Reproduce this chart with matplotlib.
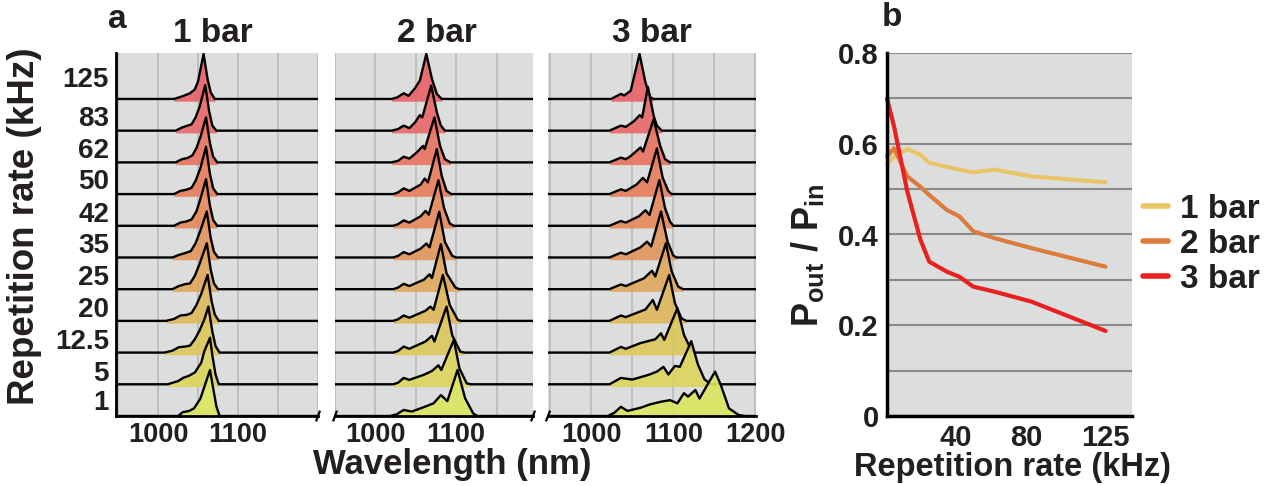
import numpy as np
import matplotlib
matplotlib.use("Agg")
import matplotlib.pyplot as plt

plt.rcParams["font.family"] = ["Liberation Sans", "DejaVu Sans"]
plt.rcParams["font.weight"] = "bold"
plt.rcParams["text.color"] = "#231f20"
plt.rcParams["xtick.color"] = "#231f20"
plt.rcParams["ytick.color"] = "#231f20"
plt.rcParams["mathtext.fontset"] = "custom"
plt.rcParams["mathtext.rm"] = "Liberation Sans:bold"
plt.rcParams["mathtext.bf"] = "Liberation Sans:bold"
plt.rcParams["mathtext.it"] = "Liberation Sans:bold"

# ---------------------------------------------------------------- data
rates = ["1", "5", "12.5", "20", "25", "35", "42", "50", "62", "83", "125"]
pressures = ["1 bar", "2 bar", "3 bar"]

# Output spectra (bottom row = 1 kHz, top row = 125 kHz), intensity in row units
wl_1bar = [
    [1025, 1031, 1039, 1045, 1053, 1059, 1065, 1069, 1073, 1077],
    [1012, 1025, 1032, 1038, 1046, 1054, 1058, 1065, 1068, 1072, 1076],
    [1008, 1018, 1026, 1034, 1040, 1046, 1052, 1058, 1063, 1068, 1072, 1077],
    [1010, 1020, 1028, 1036, 1042, 1048, 1054, 1062, 1067, 1071, 1076],
    [1018, 1026, 1034, 1040, 1046, 1052, 1061, 1066, 1070, 1075],
    [1018, 1026, 1034, 1041, 1047, 1053, 1061, 1066, 1070, 1075],
    [1020, 1028, 1036, 1042, 1048, 1053, 1060, 1065, 1069, 1074],
    [1020, 1028, 1036, 1042, 1047, 1053, 1060, 1065, 1069, 1074],
    [1022, 1030, 1037, 1043, 1048, 1053, 1060, 1065, 1069, 1074],
    [1022, 1030, 1037, 1042, 1047, 1052, 1059, 1064, 1068, 1073],
    [1020, 1030, 1040, 1046, 1050, 1057, 1062, 1066, 1071],
]
int_1bar = [
    [0, 0.12, 0.16, 0.24, 0.55, 1.0, 1.45, 0.87, 0.3, 0],
    [0, 0.1, 0.21, 0.26, 0.37, 0.68, 1.05, 1.47, 0.9, 0.3, 0],
    [0, 0.06, 0.17, 0.19, 0.22, 0.42, 0.7, 1.05, 1.45, 0.65, 0.2, 0],
    [0, 0.06, 0.17, 0.19, 0.25, 0.5, 0.85, 1.45, 0.62, 0.2, 0],
    [0, 0.1, 0.16, 0.18, 0.42, 0.8, 1.45, 0.6, 0.18, 0],
    [0, 0.08, 0.14, 0.2, 0.45, 0.85, 1.45, 0.6, 0.18, 0],
    [0, 0.1, 0.14, 0.2, 0.45, 0.85, 1.47, 0.62, 0.18, 0],
    [0, 0.1, 0.14, 0.2, 0.42, 0.82, 1.49, 0.62, 0.18, 0],
    [0, 0.1, 0.14, 0.22, 0.45, 0.8, 1.42, 0.6, 0.18, 0],
    [0, 0.1, 0.16, 0.2, 0.42, 0.75, 1.44, 0.6, 0.16, 0],
    [0, 0.08, 0.18, 0.3, 0.55, 1.42, 0.62, 0.2, 0],
]

wl_2bar = [
    [1018, 1026, 1035, 1045, 1060, 1072, 1081, 1089, 1101.6, 1111, 1121, 1126],
    [1022, 1028, 1035, 1042, 1060, 1070, 1078, 1081.5, 1097, 1104, 1113, 1118],
    [1022, 1028, 1035, 1042, 1062, 1070, 1073, 1088, 1095, 1105, 1110],
    [1022, 1028, 1035, 1042, 1062, 1068, 1072, 1083.5, 1092, 1102, 1106],
    [1022, 1028, 1035, 1042, 1060, 1067, 1070, 1081, 1088, 1099, 1104],
    [1022, 1028, 1035, 1042, 1056, 1063, 1067, 1079, 1086, 1095, 1100],
    [1022, 1028, 1035, 1042, 1056, 1062, 1066, 1078, 1085, 1092, 1097],
    [1022, 1028, 1035, 1042, 1056, 1061, 1065, 1076, 1082, 1088, 1094],
    [1020, 1028, 1035, 1042, 1051, 1059, 1061, 1073, 1080, 1086, 1093],
    [1020, 1028, 1035, 1042, 1049, 1055, 1058, 1069, 1076, 1081, 1086],
    [1020, 1027, 1035, 1041, 1049, 1055, 1063, 1070, 1076, 1082],
]
int_2bar = [
    [0, 0.05, 0.19, 0.14, 0.28, 0.4, 0.66, 0.47, 1.45, 0.56, 0.08, 0],
    [0, 0.05, 0.2, 0.14, 0.3, 0.42, 0.6, 0.45, 1.4, 0.5, 0.03, 0],
    [0, 0.05, 0.19, 0.12, 0.35, 0.53, 0.35, 1.45, 0.55, 0.03, 0],
    [0, 0.05, 0.17, 0.1, 0.32, 0.45, 0.35, 1.45, 0.5, 0.03, 0],
    [0, 0.05, 0.17, 0.1, 0.3, 0.47, 0.35, 1.42, 0.5, 0.05, 0],
    [0, 0.05, 0.17, 0.1, 0.28, 0.44, 0.32, 1.44, 0.49, 0.05, 0],
    [0, 0.05, 0.17, 0.1, 0.3, 0.47, 0.35, 1.44, 0.55, 0.07, 0],
    [0, 0.05, 0.18, 0.1, 0.3, 0.49, 0.37, 1.42, 0.58, 0.1, 0],
    [0, 0.05, 0.18, 0.12, 0.31, 0.52, 0.42, 1.42, 0.52, 0.1, 0],
    [0, 0.05, 0.16, 0.08, 0.26, 0.49, 0.42, 1.42, 0.58, 0.16, 0],
    [0, 0.05, 0.18, 0.1, 0.34, 0.58, 1.42, 0.63, 0.16, 0],
]

wl_3bar = [
    [1020, 1028, 1036, 1044, 1060, 1072, 1085, 1096, 1105, 1113, 1118, 1127,
     1132, 1142, 1151, 1158, 1168, 1180, 1188],
    [1022, 1036, 1050, 1070, 1080, 1088, 1094, 1102, 1108, 1122, 1130, 1138, 1146],
    [1022, 1036, 1042, 1060, 1078, 1085, 1089, 1105, 1113, 1122, 1126],
    [1022, 1036, 1042, 1066, 1075, 1080, 1095, 1102, 1110, 1116],
    [1022, 1036, 1042, 1064, 1074, 1078, 1091, 1098, 1106, 1112],
    [1022, 1036, 1042, 1060, 1068, 1073, 1085, 1093, 1100, 1104],
    [1022, 1036, 1042, 1058, 1066, 1071, 1083, 1090, 1096, 1100],
    [1022, 1036, 1042, 1055, 1063, 1068, 1080, 1087, 1094, 1098],
    [1022, 1036, 1042, 1048, 1060, 1063, 1076, 1084, 1090, 1096],
    [1022, 1036, 1042, 1052, 1059, 1062, 1069, 1076, 1080, 1086],
    [1024, 1036, 1040, 1048, 1058.8, 1066, 1072, 1076],
]
int_3bar = [
    [0, 0.1, 0.29, 0.16, 0.26, 0.37, 0.45, 0.5, 0.4, 0.72, 0.61, 0.82,
     0.55, 1.0, 1.4, 0.98, 0.24, 0.03, 0],
    [0, 0.2, 0.15, 0.3, 0.4, 0.55, 0.31, 0.58, 0.55, 1.36, 0.63, 0.16, 0],
    [0, 0.18, 0.12, 0.3, 0.42, 0.61, 0.4, 1.4, 0.56, 0.08, 0],
    [0, 0.17, 0.12, 0.36, 0.66, 0.35, 1.45, 0.56, 0.08, 0],
    [0, 0.15, 0.1, 0.34, 0.58, 0.4, 1.45, 0.56, 0.08, 0],
    [0, 0.15, 0.1, 0.32, 0.5, 0.35, 1.45, 0.5, 0.06, 0],
    [0, 0.15, 0.1, 0.3, 0.49, 0.34, 1.44, 0.55, 0.13, 0],
    [0, 0.15, 0.1, 0.3, 0.51, 0.37, 1.44, 0.52, 0.09, 0],
    [0, 0.15, 0.1, 0.2, 0.47, 0.34, 1.36, 0.52, 0.1, 0],
    [0, 0.16, 0.12, 0.3, 0.49, 0.42, 1.38, 0.47, 0.16, 0],
    [0, 0.16, 0.11, 0.26, 1.42, 0.52, 0.05, 0],
]

# Output/input power ratio versus repetition rate
rep_rate = [1, 5, 12.5, 20, 25, 35, 42, 50, 62, 83, 125]
ratio_1bar = [0.555, 0.572, 0.588, 0.576, 0.558, 0.549, 0.543, 0.537, 0.543, 0.528, 0.515]
ratio_2bar = [0.572, 0.590, 0.528, 0.505, 0.487, 0.454, 0.440, 0.407, 0.392, 0.370, 0.329]
ratio_3bar = [0.700, 0.638, 0.495, 0.388, 0.340, 0.318, 0.307, 0.285, 0.274, 0.252, 0.1875]

# ---------------------------------------------------------------- style
row_colors = ["#dde65f", "#dcd65c", "#ddc75b", "#dfb85a", "#e0a85a", "#e2965a",
              "#e5895a", "#e77d5a", "#e8725e", "#e96866", "#e96168"]
line_colors = ["#eac467", "#dd7b3c", "#e8201f"]
bg = "#dcdddd"

W, H = 1275, 486
fig = plt.figure(figsize=(W / 100, H / 100), dpi=100)


def axes_px(left, top, right, bottom):
    return fig.add_axes([left / W, 1 - bottom / H, (right - left) / W, (bottom - top) / H])


spectra = [(wl_1bar, int_1bar), (wl_2bar, int_2bar), (wl_3bar, int_3bar)]
frames = [(116, 318, (947.5, 1200)), (335, 533, (950, 1195)), (548, 756, (947, 1201))]
title_x = [213, 437, 652]
label_pos = [0.5, 0.42, 0.44, 0.45, 0.45, 0.45, 0.45, 0.46, 0.46, 0.45, 0.68]

for k, ((wls, ints), (l, r, xl)) in enumerate(zip(spectra, frames)):
    ax = axes_px(l, 53, r, 416)
    ax.set_facecolor(bg)
    ax.set_xlim(xl)
    ax.set_ylim(0, 11.45)
    for g in range(950, 1201, 50):
        ax.axvline(g, color="#bfc0c0", lw=1.4, zorder=1)
    for i in range(10, -1, -1):
        wl = np.array(wls[i], dtype=float)
        it = np.array(ints[i], dtype=float)
        z = 2 + 2 * (10 - i)
        ax.fill_between(wl, i - 0.07, i + it, color=row_colors[i], alpha=0.9,
                        lw=0, zorder=z)
        x = np.concatenate([[xl[0]], wl, [xl[1]]])
        y = np.concatenate([[0], it, [0]]) + i
        ax.plot(x, y, color="black", lw=1.7, zorder=z + 1,
                solid_joinstyle="round", solid_capstyle="butt")
    for s in ["top", "right"]:
        ax.spines[s].set_visible(False)
    ax.spines["bottom"].set_color("black")
    ax.spines["bottom"].set_linewidth(2)
    ax.spines["bottom"].set_zorder(40)
    if k == 0:
        ax.spines["left"].set_linewidth(2)
        ax.set_yticks([i + p for i, p in enumerate(label_pos)])
        ax.set_yticklabels(rates)
    else:
        ax.spines["left"].set_visible(False)
        ax.set_yticks([])
    ax.set_xticks([1000, 1100, 1200] if k == 2 else [1000, 1100])
    ax.tick_params(length=0, labelsize=19.5, pad=4)
    ax.tick_params(axis="y", labelsize=20, pad=5)
    # axis-break marks on the shared wavelength axis
    ends = {0: [1], 1: [0, 1], 2: [0]}[k]
    for e in ends:
        ax.plot([e - 0.008, e + 0.008], [-0.012, 0.012], transform=ax.transAxes,
                color="black", lw=1.6, clip_on=False, zorder=50)
    fig.text(title_x[k] / W, 1 - 33 / H, pressures[k], ha="center", va="center",
             fontsize=24, fontweight="bold")

fig.text(25 / W, 1 - 226 / H, "Repetition rate (kHz)", rotation=90, ha="center",
         va="center", fontsize=26.5, fontweight="bold")
fig.text(452 / W, 1 - 474 / H, "Wavelength (nm)", ha="center", va="baseline",
         fontsize=25, fontweight="bold")
fig.text(117 / W, 1 - 20 / H, "a", ha="center", va="center", fontsize=24,
         fontweight="bold")
fig.text(892 / W, 1 - 18 / H, "b", ha="center", va="center", fontsize=24,
         fontweight="bold")

# ---------------------------------------------------------------- panel b
axb = axes_px(887, 53, 1132, 416)
axb.set_facecolor(bg)
axb.set_xlim(1, 140)
axb.set_ylim(0, 0.8)
axb.set_yticks([0, 0.2, 0.4, 0.6, 0.8])
axb.set_yticklabels(["0", "0.2", "0.4", "0.6", "0.8"])
axb.set_yticks([0.1, 0.3, 0.5, 0.7], minor=True)
axb.set_xticks([40, 80, 125])
axb.grid(axis="y", which="both", color="#8a8a8a", lw=1.5)
axb.set_axisbelow(True)
axb.tick_params(which="both", length=0, labelsize=21)
axb.tick_params(axis="y", pad=6)
axb.tick_params(axis="x", pad=6)
for s in ["top", "right"]:
    axb.spines[s].set_visible(False)
for s in ["left", "bottom"]:
    axb.spines[s].set_linewidth(2.5)
    axb.spines[s].set_zorder(10)

for vals, c, name in zip([ratio_1bar, ratio_2bar, ratio_3bar], line_colors, pressures):
    axb.plot(rep_rate, vals, color=c, lw=3, label=name, solid_joinstyle="round",
             solid_capstyle="round", clip_on=False, zorder=5)

fig.text(1013 / W, 1 - 467 / H, "Repetition rate (kHz)", ha="center", va="center",
         fontsize=23.5, fontweight="bold")
fig.text(807 / W, 1 - 255 / H, r"$\mathbf{P}_{\mathbf{out}}\ /\ \mathbf{P}_{\mathbf{in}}$",
         rotation=90, ha="center", va="center", fontsize=26)

fig.legend(loc="center left", bbox_to_anchor=(1143 / W, 1 - 244 / H), frameon=False,
           fontsize=24, handlelength=0.75, handletextpad=0.35, labelspacing=0.12,
           borderpad=0, borderaxespad=0)
for h in fig.legends[0].get_lines():
    h.set_linewidth(4)

fig.savefig("out.png", dpi=100)
